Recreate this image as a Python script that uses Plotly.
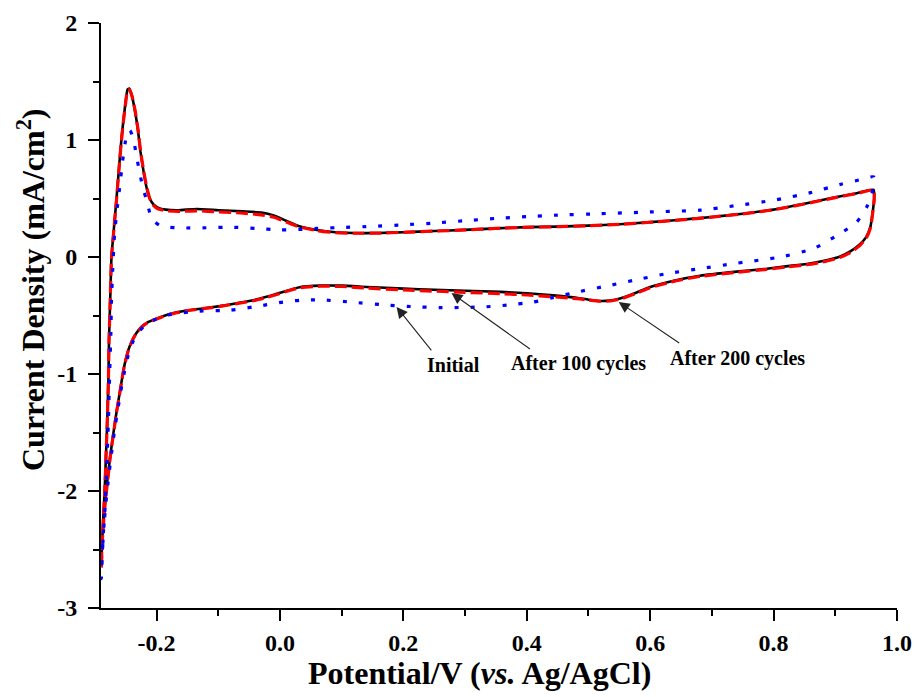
import plotly.graph_objects as go

# ---- data ----
# After 200 cycles (black solid): closed CV loop
e200 = [-0.2895, -0.287, -0.284, -0.282, -0.280, -0.278, -0.277, -0.275, -0.273, -0.269, -0.265, -0.261, -0.257,
        -0.253, -0.250, -0.247, -0.244, -0.240, -0.235, -0.230, -0.226, -0.221, -0.216, -0.211, -0.205, -0.197,
        -0.185, -0.165, -0.135, -0.100, -0.060, -0.030, -0.010, 0.010, 0.030, 0.060, 0.090, 0.120, 0.160, 0.200,
        0.250, 0.300, 0.350, 0.400, 0.450, 0.500, 0.550, 0.600, 0.650, 0.700, 0.750, 0.800, 0.850, 0.900, 0.935,
        0.962,
        0.963, 0.961, 0.957, 0.950, 0.940, 0.925, 0.908, 0.880, 0.854, 0.820, 0.789, 0.740, 0.681, 0.640, 0.600,
        0.575, 0.551, 0.535, 0.519, 0.500, 0.481, 0.443, 0.400, 0.357, 0.300, 0.250, 0.200, 0.141, 0.100, 0.065,
        0.032, 0.010, -0.005, -0.025, -0.043, -0.070, -0.097, -0.125, -0.151, -0.180, -0.200, -0.215, -0.225,
        -0.234, -0.240, -0.246, -0.253, -0.259, -0.265, -0.270, -0.275, -0.279, -0.283, -0.286, -0.2885, -0.2895]
j200 = [-2.60, -2.30, -1.99, -1.70, -1.42, -1.05, -0.71, -0.35, 0.00, 0.25, 0.49, 0.75, 1.00,
        1.20, 1.33, 1.43, 1.44, 1.38, 1.25, 1.08, 0.90, 0.73, 0.59, 0.50, 0.45, 0.42,
        0.405, 0.40, 0.41, 0.40, 0.39, 0.38, 0.355, 0.31, 0.265, 0.23, 0.212, 0.205, 0.205, 0.212,
        0.222, 0.232, 0.245, 0.255, 0.260, 0.268, 0.280, 0.298, 0.318, 0.342, 0.370, 0.405, 0.455, 0.510, 0.545,
        0.575,
        0.50, 0.40, 0.26, 0.17, 0.11, 0.05, 0.005, -0.035, -0.06, -0.08, -0.10, -0.125, -0.16, -0.20, -0.256,
        -0.31, -0.355, -0.372, -0.376, -0.365, -0.348, -0.328, -0.31, -0.298, -0.288, -0.28, -0.27, -0.256, -0.245, -0.245,
        -0.258, -0.29, -0.315, -0.345, -0.37, -0.395, -0.42, -0.44, -0.457, -0.49, -0.527, -0.56, -0.60,
        -0.66, -0.72, -0.80, -0.95, -1.14, -1.33, -1.51, -1.70, -1.88, -2.07, -2.25, -2.45, -2.60]

# After 100 cycles (red dashed)
e100 = [-0.2895, -0.287, -0.284, -0.282, -0.280, -0.278, -0.277, -0.275, -0.273, -0.269, -0.265, -0.261, -0.257,
        -0.253, -0.250, -0.247, -0.244, -0.240, -0.235, -0.230, -0.226, -0.221, -0.216, -0.211, -0.205, -0.197,
        -0.185, -0.165, -0.135, -0.100, -0.060, -0.030, -0.010, 0.010, 0.030, 0.060, 0.090, 0.120, 0.160, 0.200,
        0.250, 0.300, 0.350, 0.400, 0.450, 0.500, 0.550, 0.600, 0.650, 0.700, 0.750, 0.800, 0.850, 0.900, 0.935,
        0.962,
        0.963, 0.961, 0.957, 0.950, 0.940, 0.925, 0.908, 0.880, 0.854, 0.820, 0.789, 0.740, 0.681, 0.640, 0.600,
        0.575, 0.551, 0.535, 0.519, 0.500, 0.481, 0.443, 0.400, 0.357, 0.300, 0.250, 0.200, 0.141, 0.100, 0.065,
        0.032, 0.010, -0.005, -0.025, -0.043, -0.070, -0.097, -0.125, -0.151, -0.180, -0.200, -0.215, -0.225,
        -0.234, -0.240, -0.246, -0.253, -0.259, -0.265, -0.270, -0.275, -0.279, -0.283, -0.286, -0.2885, -0.2895]
j100 = [-2.66, -2.34, -2.02, -1.72, -1.43, -1.06, -0.72, -0.36, -0.01, 0.24, 0.48, 0.74, 0.99,
        1.19, 1.32, 1.42, 1.43, 1.38, 1.26, 1.09, 0.91, 0.74, 0.60, 0.50, 0.44, 0.41,
        0.395, 0.39, 0.395, 0.385, 0.375, 0.36, 0.34, 0.30, 0.26, 0.225, 0.208, 0.203, 0.204, 0.211,
        0.221, 0.231, 0.244, 0.254, 0.259, 0.267, 0.279, 0.297, 0.317, 0.341, 0.369, 0.404, 0.453, 0.508, 0.543,
        0.572,
        0.49, 0.39, 0.25, 0.16, 0.10, 0.04, -0.003, -0.042, -0.066, -0.086, -0.106, -0.131, -0.166, -0.206, -0.262,
        -0.316, -0.360, -0.376, -0.378, -0.368, -0.356, -0.340, -0.325, -0.313, -0.302, -0.292, -0.281, -0.266, -0.252, -0.250,
        -0.263, -0.295, -0.320, -0.350, -0.374, -0.398, -0.422, -0.442, -0.459, -0.492, -0.53, -0.563, -0.603,
        -0.663, -0.723, -0.805, -0.955, -1.145, -1.335, -1.52, -1.71, -1.90, -2.09, -2.28, -2.48, -2.66]

# Initial (blue dotted)
e0 = [-0.2895, -0.287, -0.284, -0.281, -0.278, -0.276, -0.274, -0.273, -0.271, -0.268, -0.263, -0.259, -0.255,
      -0.251, -0.247, -0.243, -0.238, -0.233, -0.227, -0.221, -0.216, -0.211, -0.205, -0.195, -0.184, -0.160,
      -0.120, -0.080, -0.040, 0.000, 0.030, 0.060, 0.100, 0.150, 0.200, 0.250, 0.300, 0.350, 0.400, 0.450,
      0.519, 0.600, 0.681, 0.740, 0.800, 0.860, 0.908, 0.940, 0.962,
      0.962, 0.957, 0.951, 0.935, 0.908, 0.865, 0.811, 0.735, 0.680, 0.627, 0.573, 0.535, 0.481, 0.440, 0.411,
      0.370, 0.330, 0.259, 0.220, 0.178, 0.114, 0.065, 0.032, 0.005, -0.027, -0.081, -0.130, -0.184, -0.205,
      -0.220, -0.230, -0.238, -0.245, -0.252, -0.258, -0.262, -0.268, -0.273, -0.278, -0.282, -0.286, -0.2885,
      -0.2895]
j0 = [-2.75, -2.45, -2.19, -1.85, -1.40, -1.00, -0.65, -0.37, -0.10, 0.20, 0.45, 0.63, 0.82,
      0.97, 1.07, 1.08, 1.02, 0.88, 0.71, 0.57, 0.485, 0.38, 0.31, 0.27, 0.256, 0.248,
      0.250, 0.255, 0.245, 0.232, 0.235, 0.245, 0.252, 0.262, 0.275, 0.290, 0.310, 0.330, 0.345, 0.358,
      0.370, 0.385, 0.400, 0.440, 0.485, 0.550, 0.620, 0.660, 0.685,
      0.60, 0.50, 0.427, 0.30, 0.20, 0.072, 0.00, -0.057, -0.10, -0.142, -0.20, -0.242, -0.30, -0.35, -0.385,
      -0.41, -0.427, -0.433, -0.425, -0.413, -0.385, -0.366, -0.37, -0.385, -0.413, -0.456, -0.462, -0.498, -0.541,
      -0.59, -0.65, -0.72, -0.82, -0.98, -1.15, -1.28, -1.48, -1.68, -1.90, -2.10, -2.35, -2.55,
      -2.75]

x_ticks = [-0.2, 0.0, 0.2, 0.4, 0.6, 0.8, 1.0]
x_ticklabels = ["-0.2", "0.0", "0.2", "0.4", "0.6", "0.8", "1.0"]
y_ticks = [-3, -2, -1, 0, 1, 2]
y_ticklabels = ["-3", "-2", "-1", "0", "1", "2"]

labels = ["Initial", "After 100 cycles", "After 200 cycles"]
label_pos = [(0.282, -0.925), (0.484, -0.906), (0.741, -0.868)]
arrow_heads = [(0.189, -0.427), (0.278, -0.308), (0.549, -0.385)]
arrow_tails_px = [(36, 45), (80, 57), (62, 42)]

FONT = "Liberation Serif"

fig = go.Figure()
fig.add_trace(go.Scatter(x=e200, y=j200, mode="lines", name="After 200 cycles",
                         line=dict(color="black", width=2.6, shape="spline", smoothing=0.5)))
fig.add_trace(go.Scatter(x=e100, y=j100, mode="lines", name="After 100 cycles",
                         line=dict(color="#ff0000", width=3.2, dash="12px,5px", shape="spline", smoothing=0.5)))
fig.add_trace(go.Scatter(x=e0, y=j0, mode="lines", name="Initial",
                         line=dict(color="#0000ff", width=3.2, dash="4px,12px", shape="spline", smoothing=0.5)))

for (hx, hy), (ax, ay) in zip(arrow_heads, arrow_tails_px):
    fig.add_annotation(x=hx, y=hy, ax=ax, ay=ay, text="", showarrow=True,
                       arrowhead=2, arrowsize=2.0, arrowwidth=1.1, arrowcolor="#222222")
for t, (lx, ly) in zip(labels, label_pos):
    fig.add_annotation(x=lx, y=ly, text=t, showarrow=False,
                       font=dict(family=FONT, size=20, color="black", weight="bold"))

# axis titles
fig.add_annotation(xref="paper", yref="paper", x=(479 - 101) / 796, y=-(673 - 608) / 585,
                   text="Potential/V (<i>vs.</i> Ag/AgCl)", showarrow=False, xanchor="center", yanchor="middle",
                   font=dict(family=FONT, size=32, color="black", weight="bold"))
fig.add_annotation(xref="paper", yref="paper", x=-(101 - 31) / 796, y=(608 - 290) / 585,
                   text="Current Density (mA/cm<sup>2</sup>)", showarrow=False, textangle=-90,
                   xanchor="center", yanchor="middle",
                   font=dict(family=FONT, size=32, color="black", weight="bold"))

axis_common = dict(showline=True, linewidth=2, linecolor="black", ticks="outside", ticklen=11, tickwidth=2,
                   tickcolor="black", showgrid=False, zeroline=False, automargin=False,
                   tickfont=dict(family=FONT, size=24, color="black", weight="bold"))
fig.update_xaxes(range=[-0.29, 1.0], tickvals=x_ticks, ticktext=x_ticklabels,
                 minor=dict(ticks="outside", ticklen=6, tickwidth=2, tickcolor="black", dtick=0.1, tick0=0),
                 ticklabelstandoff=1, **axis_common)
fig.update_yaxes(range=[-3, 2], tickvals=y_ticks, ticktext=y_ticklabels,
                 minor=dict(ticks="outside", ticklen=6, tickwidth=2, tickcolor="black", dtick=0.5, tick0=0),
                 ticklabelstandoff=6, **axis_common)

fig.update_layout(width=917, height=697, margin=dict(l=101, r=20, t=23, b=89),
                  plot_bgcolor="white", paper_bgcolor="white", showlegend=False)

fig.write_html("out.html", config={"displayModeBar": False},
               post_script="document.body.style.margin='0px';document.body.style.overflow='hidden';")
